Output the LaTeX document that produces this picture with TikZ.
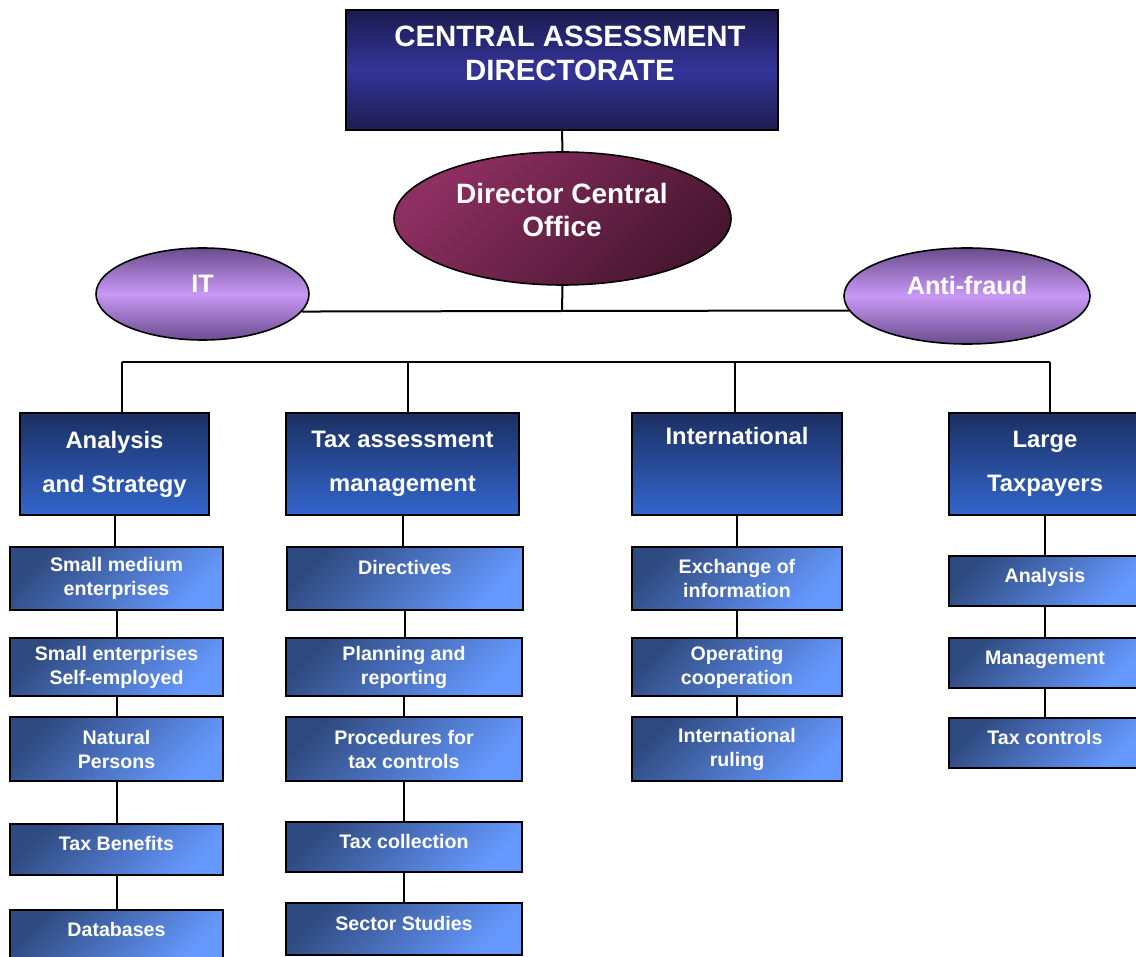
\documentclass[tikz,border=0pt]{standalone}
\usepackage{fontspec}
\setmainfont{Liberation Sans}
\usetikzlibrary{shapes.geometric}

\definecolor{cadtop}{HTML}{1B1B4E}
\definecolor{cadmid}{HTML}{343499}
\definecolor{cadbot}{HTML}{1D1D50}
\definecolor{dirlight}{HTML}{8E2F62}
\definecolor{dirdark}{HTML}{471630}
\definecolor{ovaledge}{HTML}{6A4D8E}
\definecolor{ovalmid}{HTML}{C898F5}
\definecolor{unittop}{HTML}{1B2F62}
\definecolor{unitbot}{HTML}{3366CC}
\definecolor{subdark}{HTML}{2F4A80}
\definecolor{sublight}{HTML}{6699FF}

\begin{document}
\begin{tikzpicture}[x=0.5pt, y=-0.5pt,
    link/.style={draw=black, line width=1pt},
    topbox/.style={draw=black, line width=0.9pt, rectangle, top color=cadtop, bottom color=cadbot, middle color=cadmid, minimum width=216pt, minimum height=60pt, inner sep=0pt},
    toptext/.style={text=white, align=center, font=\fontsize{14.7}{17}\selectfont\bfseries},
    headoval/.style={draw=black, line width=0.8pt, ellipse, top color=dirlight, bottom color=dirdark, shading angle=45, minimum width=168.5pt, minimum height=66.5pt, inner sep=0pt},
    headtext/.style={text=white, align=center, font=\fontsize{14}{16.5}\selectfont\bfseries},
    sideoval/.style={draw=black, line width=0.8pt, ellipse, top color=ovaledge, bottom color=ovaledge, middle color=ovalmid, minimum width=106.5pt, minimum height=46pt, inner sep=0pt, text=white, font=\fontsize{12.6}{15}\selectfont\bfseries, text height=9pt, text depth=10pt},
    unitbox/.style={draw=black, line width=0.9pt, rectangle, top color=unittop, bottom color=unitbot, minimum height=51pt, inner sep=1pt, text=white, align=center, font=\fontsize{11.9}{22}\selectfont\bfseries},
    subbox/.style={draw=black, line width=0.9pt, rectangle, top color=subdark, bottom color=sublight, shading angle=45, inner sep=1pt, text=white, align=center, font=\fontsize{9.8}{12}\selectfont\bfseries},
    subone/.style={subbox, text height=7pt, text depth=6pt}
  ]
  \useasboundingbox (0,0) rectangle (1136,957);

  \node[topbox] (cad) at (562,70) {};
  \node[toptext] (cadtext) at (570,53) {CENTRAL ASSESSMENT\\DIRECTORATE};
  \node[headoval] (dir) at (562.5,218.5) {};
  \node[headtext] (dirtext) at (562,209.5) {Director Central\\Office};
  \node[sideoval] (it) at (202.5,294) {IT};
  \node[sideoval, minimum width=123pt, minimum height=48pt] (af) at (967,296) {Anti-fraud};

  \coordinate (hub) at (562,311);
  \draw[link] (cad.south) -- (dir.north);
  \draw[link] (dir.south) -- (hub);
  \draw[link] (it.-10) -- (hub) -- (af.187);

  \node[unitbox, minimum width=94.5pt] (ana) at (114.5,464) {Analysis\\and Strategy};
  \node[unitbox, minimum width=116.5pt] (tam) at (402.5,464) {Tax assessment\\management};
  \node[unitbox, minimum width=105pt, text height=8.5pt, text depth=28pt] (intl) at (737,464) {International};
  \node[unitbox, minimum width=96pt] (large) at (1045,464) {Large\\Taxpayers};

  \coordinate (b1) at (122,362);
  \coordinate (b2) at (408,362);
  \coordinate (b3) at (735,362);
  \coordinate (b4) at (1050,362);
  \draw[link] (b1) -- (b4);
  \foreach \b/\u in {b1/ana, b2/tam, b3/intl, b4/large}
    \draw[link] (\b) -- (\b |- \u.north);

  \node[subbox, minimum width=106.5pt, minimum height=31.5pt] (sme) at (116.5,578.5) {Small medium\\enterprises};
  \node[subbox, minimum width=106.5pt, minimum height=29pt] (sese) at (116.5,667) {Small enterprises\\Self-employed};
  \node[subbox, minimum width=106.5pt, minimum height=32pt] (natp) at (116.5,749) {Natural\\Persons};
  \node[subone, minimum width=106.5pt, minimum height=25.5pt] (taxb) at (116.5,849.5) {Tax Benefits};
  \node[subone, minimum width=106.5pt, minimum height=25.5pt] (dbase) at (116.5,935.5) {Databases};

  \node[subone, minimum width=118pt, minimum height=31.5pt, text depth=11.5pt] (dirv) at (405,578.5) {Directives};
  \node[subbox, minimum width=118pt, minimum height=29pt] (plan) at (404,667) {Planning and\\reporting};
  \node[subbox, minimum width=118pt, minimum height=32pt] (proc) at (404,749) {Procedures for\\tax controls};
  \node[subone, minimum width=118pt, minimum height=25pt] (tcol) at (404,847) {Tax collection};
  \node[subone, minimum width=118pt, minimum height=26pt] (sect) at (404,929) {Sector Studies};

  \node[subbox, minimum width=105pt, minimum height=31.5pt] (exch) at (737,578.5) {Exchange of\\information};
  \node[subbox, minimum width=105pt, minimum height=29pt] (opco) at (737,667) {Operating\\cooperation};
  \node[subbox, minimum width=105pt, minimum height=32pt] (iruling) at (737,749) {International\\ruling};

  \node[subone, minimum width=96pt, minimum height=25pt] (lana) at (1045,581) {Analysis};
  \node[subone, minimum width=96pt, minimum height=25pt] (lman) at (1045,663) {Management};
  \node[subone, minimum width=96pt, minimum height=25pt] (ltaxc) at (1045,743) {Tax controls};

  \foreach \a/\b in {ana/sme, sme/sese, sese/natp, natp/taxb, taxb/dbase,
                     tam/dirv, dirv/plan, plan/proc, proc/tcol, tcol/sect,
                     intl/exch, exch/opco, opco/iruling,
                     large/lana, lana/lman, lman/ltaxc}
    \draw[link] (\a.south) -- (\a.south |- \b.north);
\end{tikzpicture}
\end{document}
